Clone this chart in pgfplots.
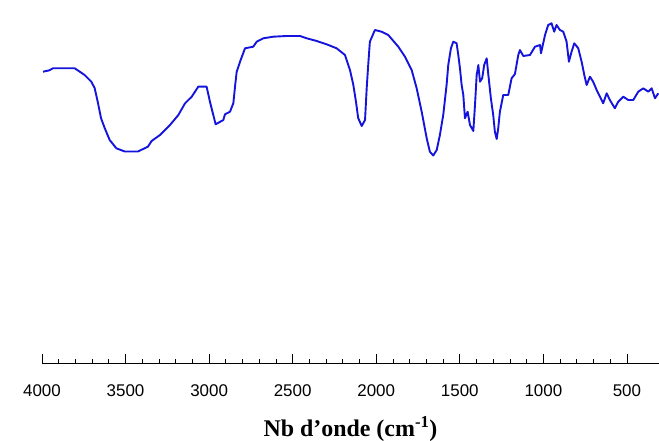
\documentclass[border=0pt]{standalone}
\usepackage{fontspec}
\setmainfont{Liberation Serif}
\newfontfamily\arialfont{Liberation Sans}
\usepackage{pgfplots}
\usepackage{pgfplotstable}
\pgfplotsset{compat=1.18}
\definecolor{spec}{RGB}{20,20,220}
\pgfplotstableread{
w h
3994 291.3
3960 292.5
3934 294.7
3804 294.7
3745 288
3705 281.3
3685 275
3665 260
3647 245
3625 235
3595 223
3555 214.7
3505 211.5
3426 211.5
3366 216.3
3344 222
3294 228
3234 238
3184 248
3144 259.7
3104 266.3
3065 276.3
3015 276.3
2995 261.3
2975 248
2961 238.7
2915 243
2905 248.7
2875 251.3
2855 259.7
2845 276.3
2835 291.3
2815 301.3
2785 314.7
2736 316.3
2715 321.3
2676 324.7
2616 326.3
2536 327
2456 327
2416 324.7
2356 322
2297 318.7
2237 314.7
2187 308
2157 293
2137 278
2121 261
2108 245
2087 237
2067 243
2057 275
2048 298
2038 321.3
2008 333
1968 331.3
1928 328
1868 316.3
1828 306.3
1788 293
1758 274.7
1728 251.3
1698 224.7
1679 211.3
1659 207.5
1638 213
1619 228
1599 248
1579 278
1569 298
1553 314.7
1539 321.3
1519 319.7
1509 308
1499 294.7
1489 278
1479 268
1469 244.7
1453 251.3
1439 238
1419 232
1409 258
1399 288
1389 298
1379 281.3
1366 284.7
1354 298
1339 304.7
1329 288
1314 264.7
1300 248
1290 231.3
1279 224
1270 234.7
1260 251.3
1240 268
1210 268
1190 284.7
1170 289
1150 308
1140 313
1120 307
1080 308
1050 316.3
1020 318
1014 309.7
990 328
971 338
951 339.7
935 331.3
921 338
901 333
881 331.3
861 321.3
847 301.3
831 311.3
815 319.7
791 314.7
771 301.3
755 288
741 278
721 286.3
702 281.3
681 273
661 266.3
642 259.7
621 269.7
602 263
572 254.7
552 261.3
522 266.3
492 263
462 263
432 271.3
402 274.7
372 271.3
352 274.7
332 264.7
312 269.7
}\spectrum
\begin{document}
\begin{tikzpicture}
\useasboundingbox (-42bp,-78bp) rectangle (617bp,363bp);
\begin{axis}[
  at={(0,0)}, anchor=south west,
  scale only axis, width=617bp, height=363bp,
  x dir=reverse, xmin=308, xmax=4000, ymin=0, ymax=363,
  axis x line*=bottom, axis y line=none,
  xtick={500,1000,...,4000}, minor x tick num=4, xtick align=inside,
  major tick length=9bp, minor tick length=4.5bp,
  tick style={black, line width=0.8bp},
  axis line style={black, line width=0.8bp},
  /pgf/number format/assume math mode=true,
  /pgf/number format/1000 sep={},
  xticklabel style={font=\arialfont\fontsize{17}{17}\selectfont, yshift=-18bp},
  xlabel={\fontsize{24}{24}\selectfont\bfseries Nb d’onde (cm\textsuperscript{-1})},
  xlabel style={at={(axis description cs:0.5,0)}, anchor=base, yshift=-73bp, inner sep=0pt},
  clip=false,
]
\addplot[spec, line width=1.9bp, line join=round] table[x=w, y=h] {\spectrum};
\end{axis}
\end{tikzpicture}
\end{document}
